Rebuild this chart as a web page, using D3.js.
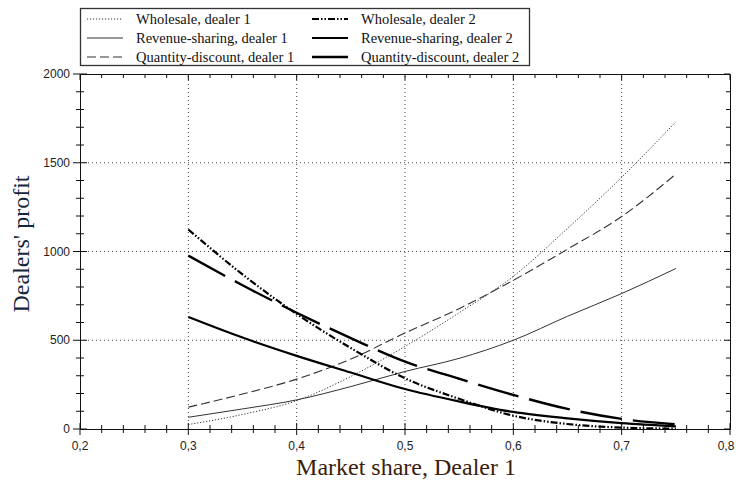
<!DOCTYPE html>
<html>
<head>
<meta charset="utf-8">
<script src="https://cdn.jsdelivr.net/npm/d3@7"></script>
<style>
  html, body { margin: 0; padding: 0; background: #fff; }
  svg { display: block; }
</style>
</head>
<body>
<svg id="chart" width="736" height="486"></svg>
<script>
// Market share of dealer 1 (x) and dealers' profit under three contract types
const marketShare = [0.30, 0.35, 0.40, 0.45, 0.50, 0.55, 0.60, 0.65, 0.70, 0.75];

const wholesaleD1   = [25, 82, 160, 296, 465, 655, 860, 1130, 1418, 1730];
const revenueD1     = [66, 113, 164, 239, 324, 398, 500, 635, 763, 904];
const quantityD1    = [123, 197, 281, 394, 541, 678, 838, 1013, 1197, 1436];
const wholesaleD2   = [1124, 871, 648, 456, 286, 170, 75, 28, 8, 2];
const revenueD2     = [631, 515, 412, 318, 225, 155, 96, 60, 33, 15];
const quantityD2    = [977, 810, 655, 512, 380, 283, 192, 113, 57, 26];

const seriesNames = [
  "Wholesale, dealer 1", "Revenue-sharing, dealer 1", "Quantity-discount, dealer 1",
  "Wholesale, dealer 2", "Revenue-sharing, dealer 2", "Quantity-discount, dealer 2"
];

const xTicks = [0.2, 0.3, 0.4, 0.5, 0.6, 0.7, 0.8];
const yTicks = [0, 500, 1000, 1500, 2000];

const svg = d3.select("#chart");
const x = d3.scaleLinear().domain([0.2, 0.8]).range([80, 730]);
const y = d3.scaleLinear().domain([0, 2000]).range([429, 74]);

const fmtX = v => d3.format(".1f")(v).replace(".", ",");

// grid (dotted) at inner major ticks
const grid = svg.append("g").attr("stroke", "#444").attr("stroke-width", 1)
  .attr("stroke-dasharray", "1,3");
xTicks.slice(1, -1).forEach(t => {
  grid.append("line").attr("x1", x(t)).attr("x2", x(t))
    .attr("y1", y(0)).attr("y2", y(2000));
});
yTicks.slice(1, -1).forEach(t => {
  grid.append("line").attr("x1", x(0.2)).attr("x2", x(0.8))
    .attr("y1", y(t)).attr("y2", y(t));
});

// axes: ticks crossing on left/bottom, inside-only on top/right
const xMinor = d3.range(0.2, 0.8001, 0.02);
const yMinor = d3.range(0, 2000.1, 100);
const isMajorX = v => Math.abs(v * 10 - Math.round(v * 10)) < 1e-6;
const isMajorY = v => v % 500 === 0;

const axBottom = svg.append("g").attr("transform", `translate(0,${y(0)})`);
axBottom.call(d3.axisBottom(x).tickValues(xMinor).tickSize(0).tickFormat(""));
axBottom.selectAll(".domain").attr("stroke", "#111");
xMinor.forEach(v => {
  const h = isMajorX(v) ? 6 : 4;
  axBottom.append("line").attr("x1", x(v)).attr("x2", x(v)).attr("y1", -h).attr("y2", h)
    .attr("stroke", "#111");
});

const axLeft = svg.append("g").attr("transform", `translate(${x(0.2)},0)`);
axLeft.call(d3.axisLeft(y).tickValues(yMinor).tickSize(0).tickFormat(""));
axLeft.selectAll(".domain").attr("stroke", "#111");
yMinor.forEach(v => {
  const h = isMajorY(v) ? 7 : 4;
  axLeft.append("line").attr("y1", y(v)).attr("y2", y(v)).attr("x1", -h).attr("x2", h)
    .attr("stroke", "#111");
});

const axTop = svg.append("g").attr("transform", `translate(0,${y(2000)})`);
axTop.call(d3.axisTop(x).tickValues(xMinor).tickSize(0).tickFormat(""));
axTop.selectAll(".domain").attr("stroke", "#111");
xMinor.forEach(v => {
  axTop.append("line").attr("x1", x(v)).attr("x2", x(v)).attr("y1", 0)
    .attr("y2", isMajorX(v) ? 6 : 4).attr("stroke", "#111");
});

const axRight = svg.append("g").attr("transform", `translate(${x(0.8)},0)`);
axRight.call(d3.axisRight(y).tickValues(yMinor).tickSize(0).tickFormat(""));
axRight.selectAll(".domain").attr("stroke", "#111");
yMinor.forEach(v => {
  axRight.append("line").attr("y1", y(v)).attr("y2", y(v)).attr("x1", 0)
    .attr("x2", isMajorY(v) ? -6 : -4).attr("stroke", "#111");
});

// tick labels (the last one nudged left so it stays inside the page)
const tickFont = "'Liberation Sans', Arial, sans-serif";
svg.append("g").selectAll("text").data(xTicks).join("text")
  .attr("x", (d, i) => x(d) - (i === xTicks.length - 1 ? 4 : 0)).attr("y", y(0) + 21)
  .attr("text-anchor", "middle").attr("font-family", tickFont)
  .attr("font-size", 12).attr("fill", "#222").text(fmtX);
svg.append("g").selectAll("text").data(yTicks).join("text")
  .attr("x", x(0.2) - 10).attr("y", d => y(d) + 4)
  .attr("text-anchor", "end").attr("font-family", tickFont)
  .attr("font-size", 12).attr("fill", "#222").text(d => d);

// axis titles
const serif = "'Liberation Serif', 'Times New Roman', serif";
svg.append("text").attr("x", 406).attr("y", 475).attr("text-anchor", "middle")
  .attr("font-family", serif).attr("font-size", 24).attr("fill", "#3b1d0c")
  .text("Market share, Dealer 1");
svg.append("text").attr("transform", "translate(29,244) rotate(-90)")
  .attr("text-anchor", "middle").attr("font-family", serif).attr("font-size", 24)
  .attr("fill", "#14263d").text("Dealers' profit");

// series styles
const styles = [
  { data: wholesaleD1, width: 1,   dash: "1.2,1.8", color: "#333" },
  { data: revenueD1,   width: 1,   dash: null,      color: "#333" },
  { data: quantityD1,  width: 1.1, dash: "9,4",     color: "#333" },
  { data: wholesaleD2, width: 2.2, dash: "7,2,1.5,2,1.5,2", color: "#000" },
  { data: revenueD2,   width: 2.2, dash: null,      color: "#000" },
  { data: quantityD2,  width: 2.4, dash: "42,11",   color: "#000" }
];

const line = d3.line()
  .x((d, i) => x(marketShare[i]))
  .y(d => y(d))
  .curve(d3.curveMonotoneX);

const plot = svg.append("g");
styles.forEach(s => {
  plot.append("path").datum(s.data).attr("d", line)
    .attr("fill", "none").attr("stroke", s.color)
    .attr("stroke-width", s.width)
    .attr("stroke-dasharray", s.dash);
});

// legend
const lg = svg.append("g");
lg.append("rect").attr("x", 80.5).attr("y", 8.5).attr("width", 449).attr("height", 57)
  .attr("fill", "#fff").attr("stroke", "#333").attr("stroke-width", 1.3);
const rowsY = [19, 38, 57];
styles.forEach((s, i) => {
  const col = Math.floor(i / 3), row = i % 3;
  const sx = col === 0 ? 87 : 312;
  const tx = col === 0 ? 136 : 361;
  lg.append("line").attr("x1", sx).attr("x2", sx + 36)
    .attr("y1", rowsY[row]).attr("y2", rowsY[row])
    .attr("stroke", s.color).attr("stroke-width", s.width)
    .attr("stroke-dasharray", s.dash === "42,11" ? null : s.dash);
  lg.append("text").attr("x", tx).attr("y", rowsY[row] + 5)
    .attr("font-family", serif).attr("font-size", 14.5).attr("fill", "#111")
    .text(seriesNames[i]);
});
</script>
</body>
</html>
